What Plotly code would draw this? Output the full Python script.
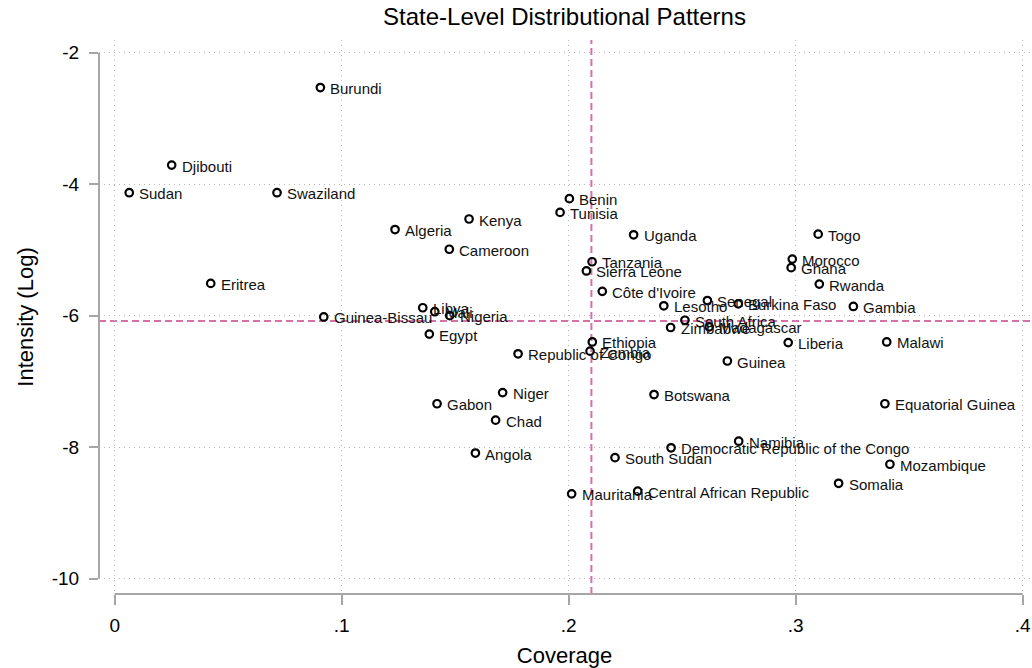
import plotly.graph_objects as go

# Country-level coverage and (log) intensity values
countries = [
    "Burundi", "Djibouti", "Sudan", "Swaziland", "Eritrea", "Guinea-Bissau",
    "Benin", "Tunisia", "Kenya", "Algeria", "Cameroon", "Uganda",
    "Tanzania", "Sierra Leone", "Côte d'Ivoire", "Lesotho", "Libya", "Mali",
    "Nigeria", "Egypt", "South Africa", "Zimbabwe", "Ethiopia", "Zambia",
    "Republic of Congo", "Madagascar", "Rwanda", "Senegal", "Burkina Faso",
    "Gambia", "Liberia", "Malawi", "Guinea", "Equatorial Guinea", "Togo",
    "Morocco", "Ghana", "Niger", "Gabon", "Chad", "Botswana", "Angola",
    "Democratic Republic of the Congo", "South Sudan", "Mauritania",
    "Central African Republic", "Namibia", "Mozambique", "Somalia",
]
coverage = [
    0.0906, 0.0251, 0.0064, 0.0715, 0.0423, 0.0921,
    0.2003, 0.1962, 0.1561, 0.1235, 0.1474, 0.2286,
    0.2103, 0.2078, 0.2148, 0.2419, 0.1357, 0.1410,
    0.1476, 0.1386, 0.2512, 0.2449, 0.2104, 0.2094,
    0.1777, 0.2619, 0.3104, 0.2611, 0.2747,
    0.3254, 0.2967, 0.3401, 0.2699, 0.3393, 0.3099,
    0.2985, 0.2980, 0.1709, 0.1420, 0.1678, 0.2376, 0.1589,
    0.2451, 0.2204, 0.2013,
    0.2304, 0.2749, 0.3415, 0.3189,
]
intensity = [
    -2.53, -3.71, -4.13, -4.13, -5.51, -6.02,
    -4.22, -4.43, -4.53, -4.69, -4.99, -4.77,
    -5.18, -5.32, -5.63, -5.85, -5.88, -5.94,
    -6.00, -6.28, -6.07, -6.18, -6.40, -6.54,
    -6.58, -6.17, -5.52, -5.77, -5.82,
    -5.86, -6.41, -6.40, -6.69, -7.34, -4.76,
    -5.14, -5.27, -7.17, -7.34, -7.59, -7.20, -8.09,
    -8.01, -8.16, -8.71,
    -8.67, -7.91, -8.26, -8.55,
]

# Reference lines (average coverage / average intensity)
ref_coverage = 0.21
ref_intensity = -6.08

x_ticks = [0, 0.1, 0.2, 0.3, 0.4]
x_tick_labels = ["0", ".1", ".2", ".3", ".4"]
y_ticks = [-10, -8, -6, -4, -2]
y_tick_labels = ["-10", "-8", "-6", "-4", "-2"]

FONT = "Liberation Sans, Arial, Helvetica, sans-serif"
AXIS_GREY = "#a6a6a6"
GRID_GREY = "#b8b8b8"
REF_PINK = "#d670a8"

fig = go.Figure()

fig.add_trace(go.Scatter(
    x=coverage, y=intensity, mode="markers",
    marker=dict(symbol="circle-open", size=7.5, color="black",
                line=dict(width=2.2, color="black")),
    hoverinfo="text", text=countries, showlegend=False, cliponaxis=False,
))

# Country labels to the right of each marker
for name, cx, cy in zip(countries, coverage, intensity):
    fig.add_annotation(
        x=cx, y=cy, xref="x", yref="y", text=name, showarrow=False,
        xanchor="left", yanchor="middle", xshift=8, yshift=-1,
        font=dict(family=FONT, size=15, color="#111111"),
    )

# Dashed reference lines
fig.add_shape(type="line", xref="x", yref="paper", x0=ref_coverage, x1=ref_coverage,
              y0=0, y1=1, line=dict(color=REF_PINK, width=2, dash="7px,4px"), layer="below")
fig.add_shape(type="line", xref="paper", yref="y", x0=0, x1=1,
              y0=ref_intensity, y1=ref_intensity,
              line=dict(color=REF_PINK, width=2, dash="7px,4px"), layer="below")

# Axis lines spanning only the tick range
fig.add_shape(type="line", xref="x", yref="paper", x0=x_ticks[0], x1=x_ticks[-1],
              y0=0, y1=0, line=dict(color=AXIS_GREY, width=2), layer="above")
fig.add_shape(type="line", xref="paper", yref="y", x0=0, x1=0,
              y0=y_ticks[0], y1=y_ticks[-1], line=dict(color=AXIS_GREY, width=2), layer="above")

fig.update_layout(
    width=1032, height=668,
    margin=dict(l=99, r=2, t=40, b=73.5),
    paper_bgcolor="white", plot_bgcolor="white",
    font=dict(family=FONT, color="black"),
    title=dict(text="State-Level Distributional Patterns", x=0.5, xref="paper",
               xanchor="center", y=1 - 17 / 668, yref="container", yanchor="middle",
               font=dict(family=FONT, size=24, color="black")),
    xaxis=dict(
        range=[-0.00692, 0.40322], showline=False, zeroline=False,
        tickmode="array", tickvals=x_ticks, ticktext=x_tick_labels,
        ticks="outside", ticklen=10, tickwidth=2, tickcolor=AXIS_GREY,
        tickfont=dict(family=FONT, size=19, color="black"),
        ticklabelstandoff=4,
        showgrid=True, gridcolor=GRID_GREY, griddash="1px,4px", gridwidth=1,
        title=dict(text="Coverage", font=dict(family=FONT, size=22, color="black"), standoff=12),
    ),
    yaxis=dict(
        range=[-10.234, -1.807], showline=False, zeroline=False,
        tickmode="array", tickvals=y_ticks, ticktext=y_tick_labels,
        ticks="outside", ticklen=9, tickwidth=2, tickcolor=AXIS_GREY,
        tickfont=dict(family=FONT, size=19, color="black"),
        ticklabelstandoff=6,
        showgrid=True, gridcolor=GRID_GREY, griddash="1px,4px", gridwidth=1,
        title=dict(text="Intensity (Log)", font=dict(family=FONT, size=22, color="black"), standoff=12),
    ),
)

fig.write_html("out.html")
